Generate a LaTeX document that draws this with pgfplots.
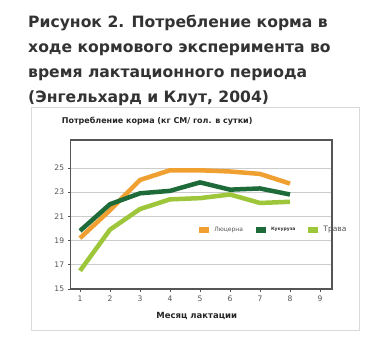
\documentclass[border=0pt]{standalone}
\usepackage{pgfplots}
\pgfplotsset{compat=1.18}
\usepackage{fontspec}
\setmainfont{DejaVu Sans}
\definecolor{cLuc}{HTML}{F0A030}
\definecolor{cCorn}{HTML}{1E6B3A}
\definecolor{cGrass}{HTML}{9DC63B}
\definecolor{cTitle}{HTML}{333333}
\definecolor{cAxis}{HTML}{555555}
\begin{document}
\begin{tikzpicture}[x=1pt,y=1pt]
\fill[white] (0,0) rectangle (384,345);
\useasboundingbox (0,0) rectangle (384,345);
\draw[gray!30, line width=0.8pt] (31,345-107) rectangle (359,345-330);
\begin{scope}[every node/.style={anchor=base west, inner sep=0pt, text=cTitle, font=\fontsize{15.6}{19}\selectfont\bfseries}]
\node at (28,345-27.5) {Рисунок 2. Потребление корма в};
\node at (28,345-52.5) {ходе кормового эксперимента во};
\node at (28,345-77.5) {время лактационного периода};
\node at (28,345-102.5) {(Энгельхард и Клут, 2004)};
\end{scope}
\node[anchor=west, inner sep=0pt, font=\fontsize{8}{10}\selectfont\bfseries, text=black!85] at (61.7,345-120.7) {Потребление корма (кг СМ/ гол. в сутки)};
\node[anchor=center, inner sep=0pt, font=\fontsize{8.5}{10}\selectfont\bfseries, text=black!85] at (196.7,345-316) {Месяц лактации};
\begin{axis}[
  at={(70.7pt,56pt)}, anchor=south west,
  scale only axis, width=261.3pt, height=149pt,
  xmin=0.69, xmax=9.4, ymin=15, ymax=27.3,
  xtick={1,...,9}, ytick={15,17,19,21,23,25},
  xtick pos=left, ytick pos=left, tick align=outside,
  major tick length=3pt,
  tick style={cAxis, line width=0.6pt},
  axis line style={cAxis, line width=1.2pt},
  ymajorgrids, grid style={gray!40, line width=0.6pt},
  ticklabel style={font=\fontsize{7.6}{9}\selectfont, text=cAxis},
  /pgf/number format/assume math mode=true,
  legend columns=3,
  legend style={at={(0.48,0.396)}, anchor=west, draw=none, fill=none, inner sep=0pt,
    /tikz/every even column/.append style={column sep=8pt}},
  legend cell align=left,
  legend image code/.code={\draw[#1, line width=6pt, line cap=butt] (0pt,0pt) -- (10pt,0pt);},
  every axis plot/.append style={line width=4.5pt, line join=round},
]
\addplot[cLuc] coordinates {(1,19.2) (2,21.5) (3,24.0) (4,24.8) (5,24.8) (6,24.7) (7,24.5) (8,23.7)};
\addplot[cCorn] coordinates {(1,19.8) (2,22.0) (3,22.9) (4,23.1) (5,23.8) (6,23.2) (7,23.3) (8,22.8)};
\addplot[cGrass] coordinates {(1,16.5) (2,19.9) (3,21.6) (4,22.4) (5,22.5) (6,22.8) (7,22.1) (8,22.2)};
\legend{{\fontsize{6}{7}\selectfont\color{cAxis}Люцерна},{\fontsize{4.5}{5}\selectfont\bfseries\color{black!80}Кукуруза},{\fontsize{7.5}{8}\selectfont\color{cAxis}Трава}}
\end{axis}
\end{tikzpicture}
\end{document}
